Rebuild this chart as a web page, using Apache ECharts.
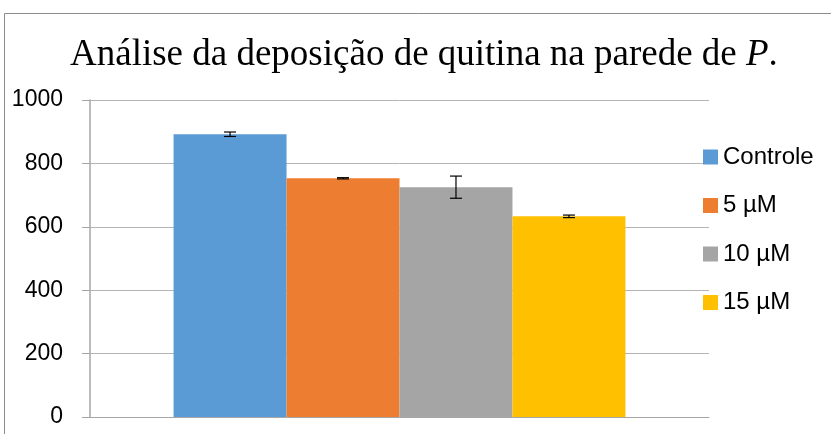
<!DOCTYPE html>
<html>
<head>
<meta charset="utf-8">
<script src="https://cdn.jsdelivr.net/npm/echarts@6/dist/echarts.min.js"></script>
<style>
html,body{margin:0;padding:0;background:#fff;}
#chart{width:831px;height:434px;}
</style>
</head>
<body>
<div id="chart"></div>
<script>
const categories = [''];
const seriesNames = ['Controle', '5 µM', '10 µM', '15 µM'];
const means = [892, 753, 725, 633];
const errors = [7, 2, 35, 4];
const yTicks = [0, 200, 400, 600, 800, 1000];
const colors = ['#5b9bd5', '#ed7d31', '#a5a5a5', '#ffc000'];

const chart = echarts.init(document.getElementById('chart'));
const catGap = 0.27;
const n = seriesNames.length;

const barSeries = seriesNames.map((name, i) => ({
  name: name,
  type: 'bar',
  data: [means[i]],
  barGap: '0%',
  barCategoryGap: '27%',
  itemStyle: { color: colors[i] },
  z: 2
}));

const errSeries = {
  type: 'custom',
  name: 'err',
  data: means.map((m, i) => [0, m, errors[i], i]),
  z: 5,
  silent: true,
  renderItem: function (params, api) {
    const idx = api.value(3);
    const m = api.value(1), e = api.value(2);
    const band = api.size([1, 0])[0];
    const w = band * (1 - catGap) / n;
    const c = api.coord([api.value(0), m]);
    const x = c[0] + (idx - (n - 1) / 2) * w;
    const yT = api.coord([0, m + e])[1];
    const yB = api.coord([0, m - e])[1];
    const hw = 6;
    const st = { stroke: '#000', lineWidth: 1.2 };
    return {
      type: 'group',
      children: [
        { type: 'line', shape: { x1: x, y1: yT, x2: x, y2: yB }, style: st },
        { type: 'line', shape: { x1: x - hw, y1: yT, x2: x + hw, y2: yT }, style: st },
        { type: 'line', shape: { x1: x - hw, y1: yB, x2: x + hw, y2: yB }, style: st }
      ]
    };
  }
};

chart.setOption({
  animation: false,
  backgroundColor: '#fff',
  graphic: [{
    type: 'rect',
    shape: { x: 4.5, y: 13.5, width: 900, height: 500 },
    style: { fill: 'none', stroke: '#8c8c8c', lineWidth: 1 },
    z: 0
  }],
  title: {
    text: 'Análise da deposição de quitina na parede de {i|P}.',
    left: 65,
    top: 32,
    textStyle: {
      fontFamily: 'Liberation Serif',
      fontSize: 37,
      fontWeight: 'normal',
      color: '#000',
      rich: {
        i: { fontFamily: 'Liberation Serif', fontSize: 37, fontStyle: 'italic', color: '#000' }
      }
    }
  },
  legend: {
    orient: 'vertical',
    left: 698,
    top: 140,
    itemWidth: 15,
    itemHeight: 15,
    itemGap: 24.5,
    icon: 'rect',
    data: seriesNames,
    textStyle: { fontFamily: 'Liberation Sans', fontSize: 24, lineHeight: 24, color: '#000' }
  },
  grid: { left: 90, right: 122, top: 100, bottom: 17, containLabel: false },
  xAxis: {
    type: 'category',
    data: categories,
    axisLine: { show: true, lineStyle: { color: '#a6a6a6', width: 1 } },
    axisTick: { show: false },
    axisLabel: { show: false }
  },
  yAxis: {
    type: 'value',
    min: yTicks[0],
    max: yTicks[yTicks.length - 1],
    interval: 200,
    axisLine: { show: true, lineStyle: { color: '#a6a6a6', width: 1.5 } },
    axisTick: { show: true, length: 8, lineStyle: { color: '#a6a6a6' } },
    splitLine: { show: true, lineStyle: { color: '#b4b4b4', width: 1 } },
    axisLabel: {
      margin: 27,
      fontFamily: 'Liberation Sans',
      fontSize: 23,
      color: '#000',
      formatter: function (v) { return String(v); }
    }
  },
  series: barSeries.concat([errSeries])
});
</script>
</body>
</html>
